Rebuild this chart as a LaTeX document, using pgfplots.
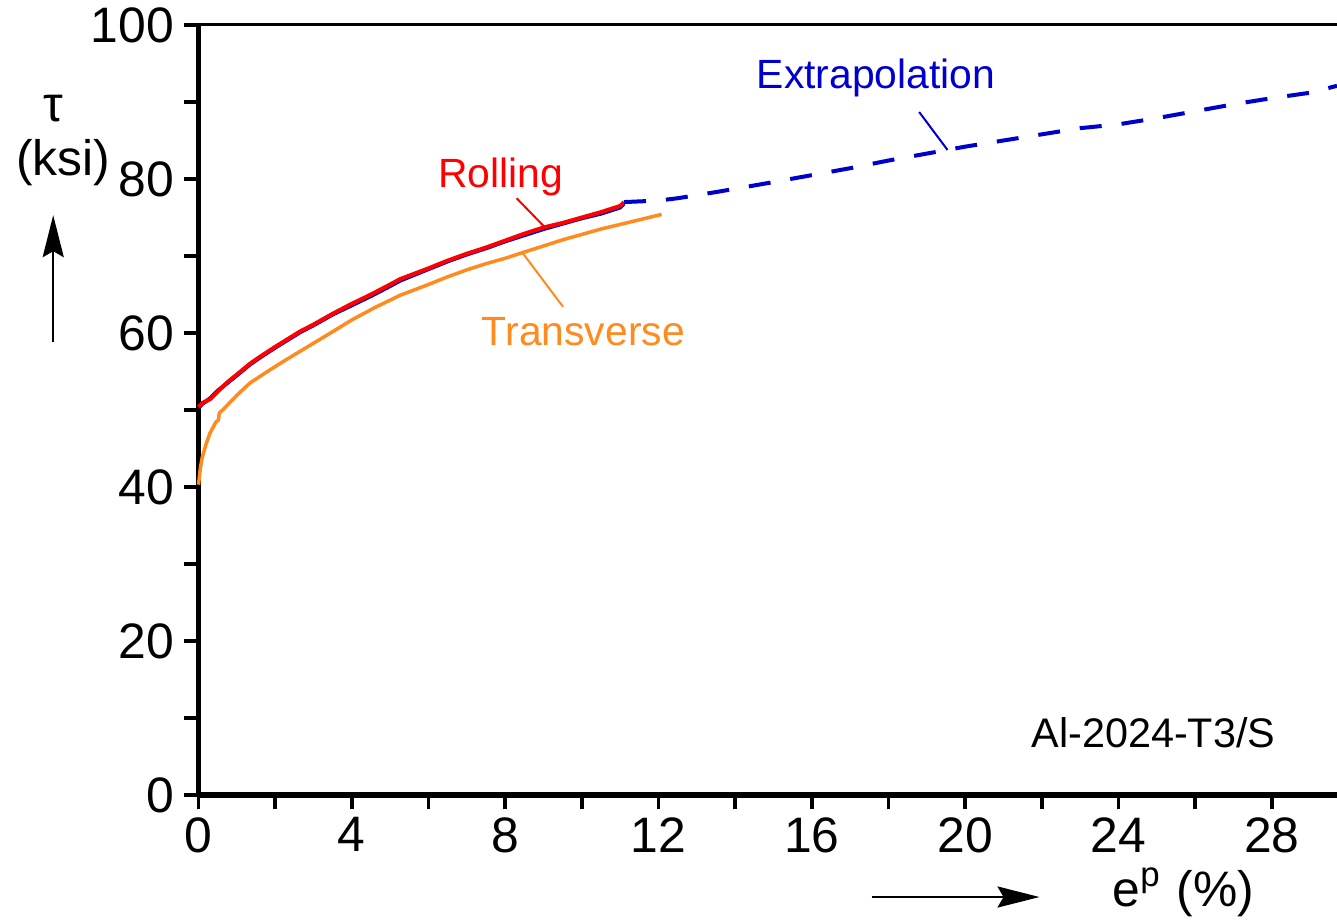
\documentclass[border=0pt]{standalone}
\usepackage{pgfplots}
\pgfplotsset{compat=1.18}
\usepackage{fontspec}
\setmainfont{Liberation Sans}
\usetikzlibrary{arrows.meta}
\definecolor{cRed}{RGB}{255,0,0}
\definecolor{cOrange}{RGB}{255,138,30}
\definecolor{cBlue}{RGB}{0,0,205}
\begin{document}
\begin{tikzpicture}
\useasboundingbox (0,0) rectangle (1337bp,923bp);
\begin{axis}[
  at={(198.5bp,128bp)}, anchor=south west,
  scale only axis, width=1138.5bp, height=770bp,
  xmin=0, xmax=29.7, ymin=0, ymax=100,
  axis x line=bottom, axis y line=left,
  x axis line style={-, line width=6bp},
  y axis line style={-, line width=5.5bp},
  xtick={0,4,...,28}, minor xtick={2,6,...,26},
  ytick={0,20,...,100}, minor ytick={10,30,...,90},
  tick align=outside,
  major tick length=14.5bp, minor tick length=14.5bp,
  xtick style={line width=3.5bp, black},
  ytick style={line width=4bp, black},
  /pgf/number format/assume math mode=true,
  every tick label/.append style={font=\fontsize{50}{60}\selectfont, inner sep=0pt},
  xticklabel style={yshift=-8bp},
  yticklabel style={xshift=-10bp},
  clip=false,
]
% top border
\draw[line width=3bp] (rel axis cs:0,1) -- (rel axis cs:1,1);

% blue solid under rolling
\addplot[cBlue, line width=4bp, line join=round] coordinates {
(0,50.3) (0.1,50.8) (0.3,51.5) (0.5,52.5) (0.8,53.7) (1.0,54.5) (1.34,55.9) (1.6,56.8) (2.0,58.1) (2.65,60.1) (3.0,61.0) (3.5,62.4) (4.0,63.6) (4.5,64.8) (5.0,66.1) (5.26,66.8) (6.0,68.3) (6.5,69.3) (7.0,70.2) (7.5,71.0) (8.0,71.9) (8.5,72.7) (9.0,73.5) (9.5,74.2) (10.0,74.9) (10.5,75.5) (11.0,76.3) (11.1,76.8)
};
% rolling
\addplot[cRed, line width=4bp, line join=round] coordinates {
(0,50.4) (0.1,50.9) (0.3,51.4) (0.5,52.4) (0.8,53.8) (1.0,54.6) (1.34,56.0) (1.6,56.9) (2.0,58.2) (2.65,60.2) (3.0,61.1) (3.5,62.5) (4.0,63.8) (4.5,65.0) (5.0,66.3) (5.26,67.0) (6.0,68.4) (6.5,69.4) (7.0,70.3) (7.5,71.1) (8.0,72.0) (8.5,72.9) (9.0,73.7) (9.5,74.3) (10.0,75.0) (10.5,75.7) (11.0,76.5) (11.1,77.0)
};
% transverse
\addplot[cOrange, line width=3.5bp, line join=round] coordinates {
(0,40.3) (0.05,42.5) (0.1,43.9) (0.2,45.6) (0.3,47.0) (0.45,48.4) (0.52,48.7) (0.54,49.6) (0.65,50.1) (1.0,51.9) (1.34,53.5) (1.8,55.0) (2.21,56.3) (2.91,58.4) (3.51,60.2) (4.0,61.7) (4.6,63.3) (5.26,64.9) (6.0,66.3) (6.5,67.3) (7.0,68.2) (7.5,69.0) (8.0,69.7) (8.43,70.4) (9.0,71.3) (9.5,72.1) (10.0,72.8) (10.5,73.5) (11.0,74.1) (11.5,74.7) (12.08,75.4)
};
% extrapolation
\addplot[cBlue, line width=4bp, dash pattern=on 22bp off 20bp] coordinates {
(11.1,77.0) (12.0,77.2) (12.5,77.5) (13.5,78.3) (14.2,78.9) (15.0,79.6) (16.0,80.5) (17.0,81.4) (18.0,82.4) (19.0,83.3) (20.0,84.2) (21.0,85.0) (22.0,85.8) (23.0,86.6) (24.0,87.1) (25.0,87.9) (26.0,88.8) (27.0,89.7) (28.0,90.5) (29.0,91.2) (29.7,92.1)
};

% annotations
\node[anchor=base west, inner sep=0pt, text=cRed, font=\fontsize{41}{48}\selectfont] at (axis cs:6.245,78.96) {Rolling};
\draw[cRed, line width=2bp] (axis cs:8.30,77.5) -- (axis cs:9.04,73.7);
\node[anchor=base west, inner sep=0pt, text=cOrange, font=\fontsize{41}{48}\selectfont] at (axis cs:7.39,58.44) {Transverse};
\draw[cOrange, line width=2bp] (axis cs:8.47,70.3) -- (axis cs:9.51,63.4);
\node[anchor=base west, inner sep=0pt, text=cBlue, font=\fontsize{41}{48}\selectfont] at (axis cs:14.56,91.69) {Extrapolation};
\draw[cBlue, line width=2bp] (axis cs:18.80,88.7) -- (axis cs:19.54,83.77);
\node[anchor=base west, inner sep=0pt, font=\fontsize{41.5}{48}\selectfont] at (axis cs:21.73,6.23) {Al-2024-T3/S};

% axis labels
\node[inner sep=0pt, font=\fontsize{50}{60}\selectfont] at (axis cs:-3.79,89.2) {τ};
\node[inner sep=0pt, font=\fontsize{50}{60}\selectfont] at (axis cs:-3.53,82.1) {(ksi)};
\draw[line width=2.5bp, -{Stealth[length=42bp,width=21bp,inset=6bp]}] (axis cs:-3.79,58.8) -- (axis cs:-3.79,75.3);
\draw[line width=2.5bp, -{Stealth[length=42bp,width=21bp,inset=6bp]}] (axis cs:17.56,-13.25) -- (axis cs:21.94,-13.25);
\node[anchor=base west, inner sep=0pt, font=\fontsize{50}{60}\selectfont] at (axis cs:23.84,-14.5) {e\raisebox{20bp}{\fontsize{35}{40}\selectfont p}\hspace{3bp} (\%)};
\end{axis}
\end{tikzpicture}
\end{document}
